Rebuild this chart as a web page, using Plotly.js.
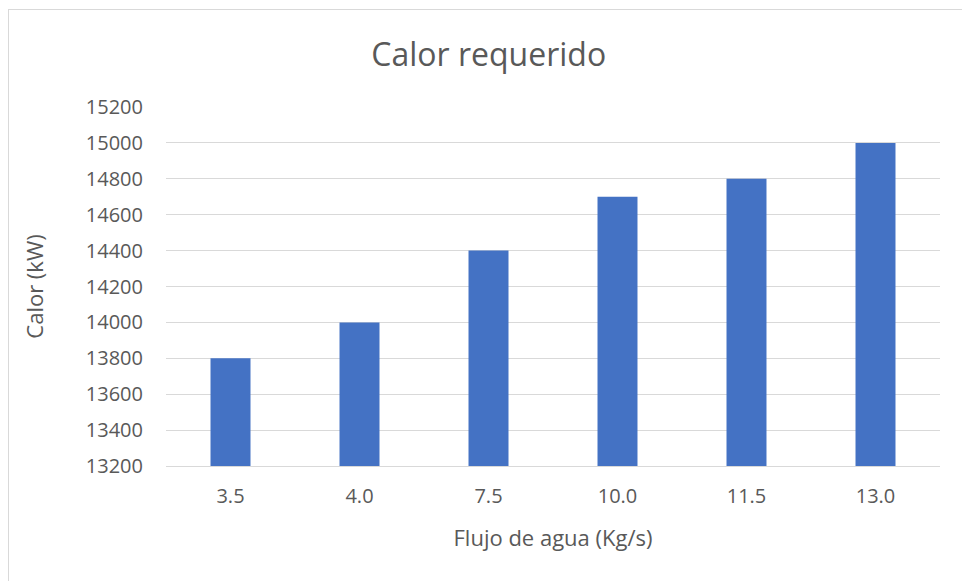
<!DOCTYPE html>
<html>
<head>
<meta charset="utf-8">
<script src="https://cdn.plot.ly/plotly-3.0.1.min.js"></script>
<style>
html,body{margin:0;padding:0;background:#fff;}
#wrap{position:relative;width:962px;height:581px;overflow:hidden;}
#frame{position:absolute;left:8px;top:9px;width:1000px;height:700px;border-left:1px solid #d9d9d9;border-top:1px solid #d9d9d9;}
#chart{position:absolute;left:0;top:0;width:962px;height:581px;}
</style>
</head>
<body>
<div id="wrap"><div id="frame"></div><div id="chart"></div></div>
<script>
const categories = ["3.5", "4.0", "7.5", "10.0", "11.5", "13.0"];
const calorValues = [13800, 14000, 14400, 14700, 14800, 15000];
const yTicks = [13200, 13400, 13600, 13800, 14000, 14200, 14400, 14600, 14800, 15000, 15200];

const font = "'Open Sans', 'Liberation Sans', sans-serif";
Plotly.newPlot("chart", [{
  type: "bar",
  x: categories,
  y: calorValues,
  marker: {color: "#4472c4"},
  hoverinfo: "x+y"
}], {
  width: 962, height: 581,
  margin: {l: 166, r: 22, t: 107, b: 115},
  paper_bgcolor: "rgba(0,0,0,0)",
  plot_bgcolor: "rgba(0,0,0,0)",
  bargap: 0.69,
  showlegend: false,
  title: {text: "Calor requerido", x: 0.508, xanchor: "center", y: 0.905, yanchor: "middle",
          font: {family: font, size: 32, color: "#595959"}},
  xaxis: {
    type: "category",
    tickfont: {family: font, size: 20, color: "#595959"},
    showgrid: false, zeroline: false,
    showline: true, linecolor: "#d9d9d9", linewidth: 1,
    ticks: "", ticklabelstandoff: 12,
    title: {text: "Flujo de agua (Kg/s)", font: {family: font, size: 22, color: "#595959"}, standoff: 22}
  },
  yaxis: {
    range: [13200, 15200],
    tickvals: yTicks,
    tickformat: "d",
    tickfont: {family: font, size: 20, color: "#595959"},
    showgrid: true, gridcolor: "#d9d9d9", gridwidth: 1,
    zeroline: false, showline: false, ticks: "",
    ticklabelstandoff: 22,
    title: {text: "Calor (kW)", font: {family: font, size: 22, color: "#595959"}, standoff: 36}
  }
}, {staticPlot: true});
</script>
</body>
</html>
